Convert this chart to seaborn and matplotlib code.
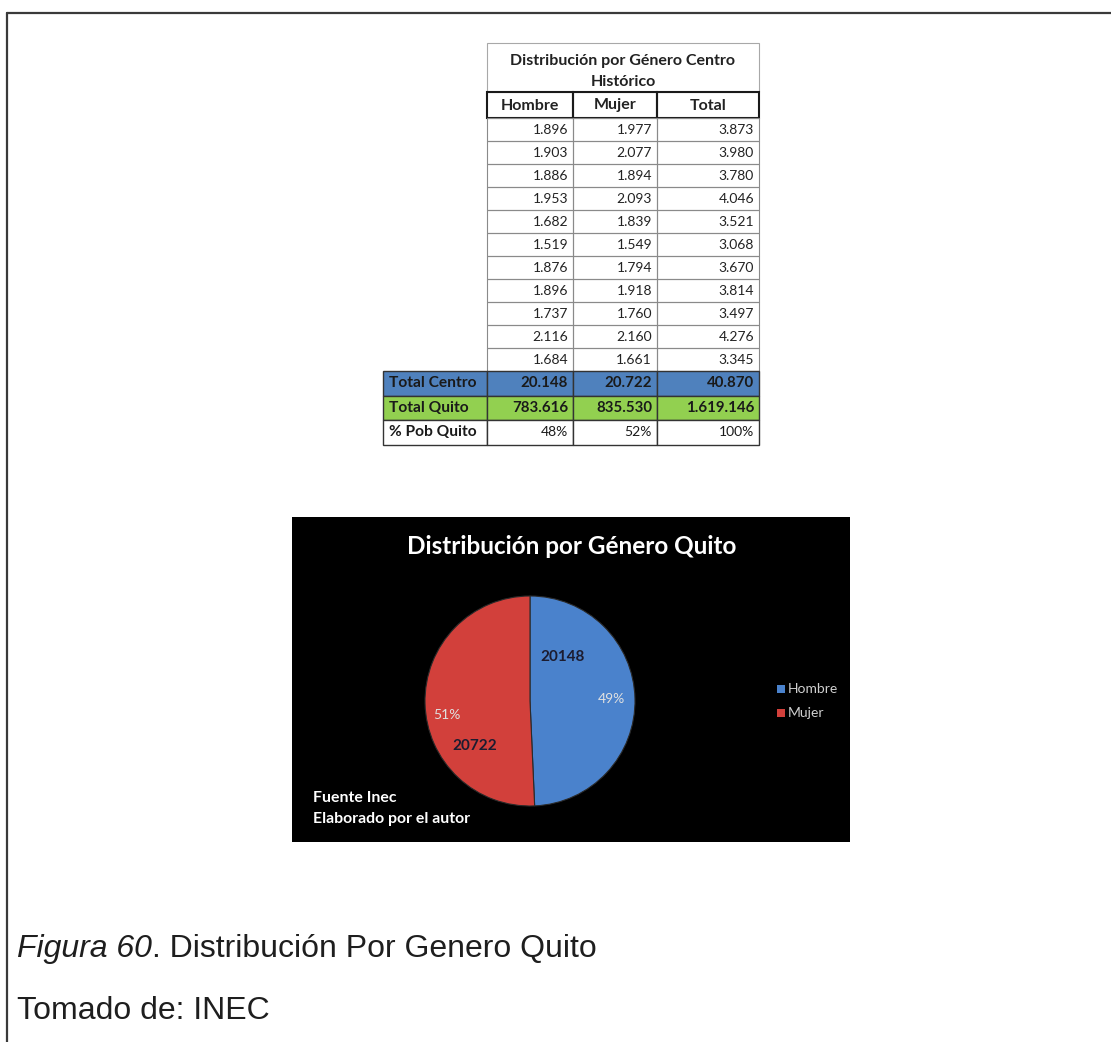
import matplotlib
matplotlib.use("Agg")
import matplotlib.pyplot as plt
import seaborn as sns
import numpy as np
from matplotlib.patches import Rectangle

# datos de la tabla (centro historico)
hombre = [1896, 1903, 1886, 1953, 1682, 1519, 1876, 1896, 1737, 2116, 1684]
mujer = [1977, 2077, 1894, 2093, 1839, 1549, 1794, 1918, 1760, 2160, 1661]
total = [3873, 3980, 3780, 4046, 3521, 3068, 3670, 3814, 3497, 4276, 3345]
encabezados = ["Hombre", "Mujer", "Total"]
fila_centro = [20148, 20722, 40870]
fila_quito = [783616, 835530, 1619146]
fila_pct = ["48%", "52%", "100%"]
etiquetas_totales = ["Total Centro", "Total Quito", "% Pob Quito"]

# datos del pastel
generos = ["Hombre", "Mujer"]
poblacion = [20148, 20722]

sns.set_theme(style="white")
plt.rcParams["font.family"] = ["Lato", "DejaVu Sans"]

colores = ["#4a82cc", "#d2403b"]


def fmt(v):
    return f"{v:,}".replace(",", ".")


fig = plt.figure(figsize=(11.11, 10.42), dpi=100)
ov = fig.add_axes([0, 0, 1, 1])
ov.set_xlim(0, 1111)
ov.set_ylim(1042, 0)
ov.axis("off")

# marco de la pagina
ov.plot([7, 1111], [13, 13], color="#3a3a3a", lw=1.6)
ov.plot([7, 7], [13, 1042], color="#3a3a3a", lw=1.6)

# ---- tabla ----
cols = [487, 573, 657, 759]
ov.add_patch(Rectangle((487, 43), 272, 49, fill=False, ec="#a8a8a8", lw=0.8))
ov.text(623, 61, "Distribución por Género Centro", ha="center", va="center",
        fontsize=11.5, fontweight="bold", color="#222")
ov.text(623, 82, "Histórico", ha="center", va="center",
        fontsize=11.5, fontweight="bold", color="#222")

for j, h in enumerate(encabezados):
    ov.add_patch(Rectangle((cols[j], 92), cols[j + 1] - cols[j], 26,
                           fill=False, ec="#1a1a1a", lw=1.5))
    ov.text((cols[j] + cols[j + 1]) / 2, 105.5, h, ha="center", va="center",
            fontsize=11.5, fontweight="bold", color="#222")

y0 = 118
rh = 23
for i in range(len(hombre)):
    yt = y0 + i * rh
    for j, v in enumerate([hombre[i], mujer[i], total[i]]):
        ov.add_patch(Rectangle((cols[j], yt), cols[j + 1] - cols[j], rh,
                               fill=False, ec="#8a8a8a", lw=0.8))
        ov.text(cols[j + 1] - 5, yt + rh / 2 + 0.5, fmt(v), ha="right", va="center",
                fontsize=10, color="#222")

yt = y0 + len(hombre) * rh
rh2 = 24.5
filas = [[fmt(v) for v in fila_centro], [fmt(v) for v in fila_quito], fila_pct]
fondos = ["#4f81bd", "#92d050", "white"]
for k, (lab, fila, bg) in enumerate(zip(etiquetas_totales, filas, fondos)):
    yk = yt + k * rh2
    ov.add_patch(Rectangle((383, yk), 487 - 383, rh2, fc=bg, ec="#333", lw=1.0))
    ov.text(389, yk + rh2 / 2, lab, ha="left", va="center", fontsize=11.2,
            fontweight="bold", color="#1a1a1a")
    for j, s in enumerate(fila):
        ov.add_patch(Rectangle((cols[j], yk), cols[j + 1] - cols[j], rh2,
                               fc=bg, ec="#333", lw=1.0))
        ov.text(cols[j + 1] - 5, yk + rh2 / 2, s, ha="right", va="center",
                fontsize=10.8 if k < 2 else 10,
                fontweight="bold" if k < 2 else "normal", color="#1a1a1a")

# ---- grafico de pastel ----
ov.add_patch(Rectangle((292, 517), 850 - 292, 842 - 517, fc="black", ec="none"))
ov.text(572, 547, "Distribución por Género Quito", ha="center", va="center",
        fontsize=17.5, fontweight="bold", color="white")
ov.text(313, 798, "Fuente Inec", ha="left", va="center", fontsize=11.4,
        fontweight="bold", color="white")
ov.text(313, 819, "Elaborado por el autor", ha="left", va="center", fontsize=11.4,
        fontweight="bold", color="white")

# leyenda
for g, c, yl in zip(generos, colores, [689, 713]):
    ov.add_patch(Rectangle((777, yl - 4), 8, 8, fc=c, ec="none"))
    ov.text(788, yl, g, ha="left", va="center", fontsize=10, color="#cfcfcf")

cx, cy, r = 530, 701, 105
pax = fig.add_axes([(cx - r) / 1111, 1 - (cy + r) / 1042, 2 * r / 1111, 2 * r / 1042])
wedges, _, autotexts = pax.pie(poblacion, colors=colores, startangle=90,
                               counterclock=False, autopct="%1.0f%%", pctdistance=0.78,
                               wedgeprops=dict(edgecolor="#2a2a2a", linewidth=0.8))
for t in autotexts:
    t.set_color("#e0e0e0")
    t.set_fontsize(10)
autotexts[1].set_position((-0.79, -0.13))
pax.set_xlim(-1, 1)
pax.set_ylim(-1, 1)
pax.set_aspect("equal")

# etiquetas de valor
pos_valor = [(0.31, 0.42), (-0.53, -0.43)]
for v, (x, y) in zip(poblacion, pos_valor):
    pax.text(x, y, str(v), ha="center", va="center", fontsize=11,
             fontweight="bold", color="#1c1c30")

# ---- pie de figura ----
fig.canvas.draw()
rend = fig.canvas.get_renderer()
t1 = ov.text(17, 949, "Figura 60", ha="left", va="center", fontsize=23,
             style="italic", family="Liberation Sans", color="#1e1e1e")
bb = t1.get_window_extent(renderer=rend)
ov.text(17 + bb.width, 949, ". Distribución Por Genero Quito", ha="left", va="center",
        fontsize=23, family="Liberation Sans", color="#1e1e1e")
ov.text(17, 1011, "Tomado de: INEC", ha="left", va="center", fontsize=23,
        family="Liberation Sans", color="#1e1e1e")

fig.savefig("out.png", dpi=100)
